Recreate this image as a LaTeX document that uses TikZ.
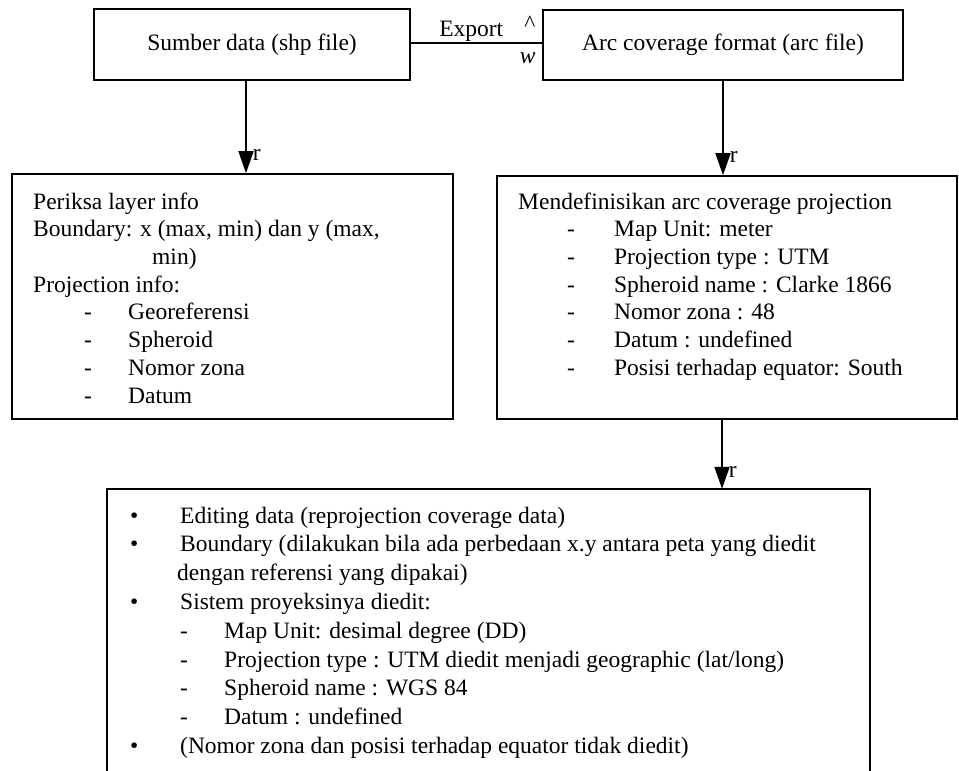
\documentclass[tikz,border=0pt]{standalone}
\usepackage{fontspec}
\setmainfont{Liberation Serif}
\usetikzlibrary{arrows.meta, positioning}
\newcommand{\bodyfont}{\fontsize{23.5}{27.7}\selectfont}
\newcommand{\dashitem}[3]{\hspace*{#1}\makebox[#2][l]{-}#3}
\newcommand{\bulitem}[1]{\makebox[50pt][l]{\textbullet}#1}
\tikzstyle{box} = [rectangle,
inner sep=0pt,
text centered,
draw=black,
line width=1.6pt,
font=\bodyfont]
\tikzstyle{txt} = [anchor=north west,
align=left,
inner sep=0pt,
font=\bodyfont]
\tikzstyle{arrow} = [line width=1.6pt, -{Triangle[width=15pt,length=22pt]}]
\tikzstyle{lbl} = [inner sep=0pt, font=\bodyfont]

\begin{document}
\begin{tikzpicture}[x=1pt, y=-1pt]
			\useasboundingbox (0,0) rectangle (959,771);
			\node (src) [box, minimum width=316pt, minimum height=71pt] at (252,44.5) {Sumber data (shp file)};
			\node (arc) [box, minimum width=360pt, minimum height=70pt] at (723,45) {Arc coverage format (arc file)};
			\node (info) [box, minimum width=441pt, minimum height=245pt] at (232.5,296.5) {};
			\node (proj) [box, minimum width=460pt, minimum height=243pt] at (727,297.5) {};
			\node (edit) [minimum width=763pt, minimum height=282pt, inner sep=0pt] at (488.5,630) {};
			\draw[line width=1.6pt] (edit.south west) |- (edit.north east) -- (edit.south east);

			% text tops = first baseline - 0.7 baselineskip
			\node (infotxt) [txt] at (33,189.6) {\strut Periksa layer info\\
				Boundary: x (max, min) dan y (max,\\
				\hspace*{119pt}min)\\
				Projection info:\\
				\dashitem{51pt}{44pt}{Georeferensi}\\
				\dashitem{51pt}{44pt}{Spheroid}\\
				\dashitem{51pt}{44pt}{Nomor zona}\\
				\dashitem{51pt}{44pt}{Datum}};
			\node (projtxt) [txt] at (518,189.6) {\strut Mendefinisikan arc coverage projection\\
				\dashitem{49pt}{47pt}{Map Unit: meter}\\
				\dashitem{49pt}{47pt}{Projection type : UTM}\\
				\dashitem{49pt}{47pt}{Spheroid name : Clarke 1866}\\
				\dashitem{49pt}{47pt}{Nomor zona : 48}\\
				\dashitem{49pt}{47pt}{Datum : undefined}\\
				\dashitem{49pt}{47pt}{Posisi terhadap equator: South}};
			\node (edittxt) [txt, font=\fontsize{23.5}{28.8}\selectfont] at (130,502.8) {\strut\bulitem{Editing data (reprojection coverage data)}\\
				\bulitem{Boundary (dilakukan bila ada perbedaan x.y antara peta yang diedit}\\
				\hspace*{47pt}dengan referensi yang dipakai)\\
				\bulitem{Sistem proyeksinya diedit:}\\
				\dashitem{50pt}{44pt}{Map Unit: desimal degree (DD)}\\
				\dashitem{50pt}{44pt}{Projection type : UTM diedit menjadi geographic (lat/long)}\\
				\dashitem{50pt}{44pt}{Spheroid name : WGS 84}\\
				\dashitem{50pt}{44pt}{Datum : undefined}\\
				\bulitem{(Nomor zona dan posisi terhadap equator tidak diedit)}};

			\draw[line width=1.4pt] (src.east |- 0,43) -- (arc.west |- 0,43)
				node (export) [lbl, pos=0.46, anchor=base, yshift=7pt] {Export}
				node (caret) [lbl, pos=1, anchor=base east, xshift=-6pt, yshift=12pt] {\textasciicircum}
				node (wlbl) [lbl, pos=1, anchor=base east, xshift=-6pt, yshift=-20pt] {\textit{w}};
			\draw[arrow] ([xshift=-6pt]src.south) -- ([xshift=-6pt]src.south |- info.north)
				node (r1) [lbl, pos=1, anchor=base west, xshift=6pt, yshift=13pt] {r};
			\draw[arrow] (arc.south) -- (arc.south |- proj.north)
				node (r2) [lbl, pos=1, anchor=base west, xshift=6pt, yshift=13pt] {r};
			\draw[arrow] ([xshift=-5pt]proj.south) -- ([xshift=-5pt]proj.south |- edit.north)
				node (r3) [lbl, pos=1, anchor=base west, xshift=6pt, yshift=11pt] {r};
		\end{tikzpicture}
\end{document}
